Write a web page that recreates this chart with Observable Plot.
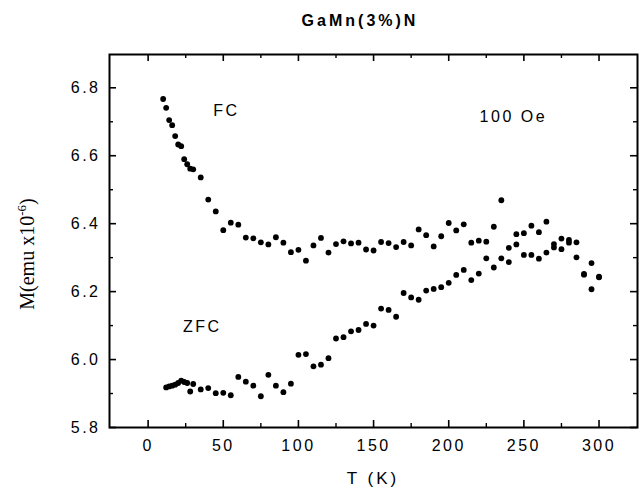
<!DOCTYPE html>
<html><head><meta charset="utf-8">
<script src="https://cdn.jsdelivr.net/npm/d3@7"></script>
<script src="https://cdn.jsdelivr.net/npm/@observablehq/plot@0.6"></script>
<style>html,body{margin:0;padding:0;background:#fff}svg{display:block}</style>
</head><body><div id="chart"></div>
<script>
const fcT = [10,12,14,16,18,20,22,24,26,28,30,35,40,45,50,55,60,65,70,75,80,85,90,95,100,105,110,115,120,125,130,135,140,145,150,155,160,165,170,175,180,185,190,195,200,205,210,215,220,225,230,235,240,245,250,255,260,265,270,275,280,285,290,295,300];
const fcM = [6.767,6.741,6.705,6.690,6.658,6.633,6.628,6.590,6.575,6.562,6.560,6.536,6.471,6.436,6.381,6.403,6.397,6.359,6.357,6.345,6.339,6.360,6.344,6.316,6.323,6.291,6.336,6.358,6.315,6.340,6.348,6.342,6.344,6.324,6.321,6.346,6.343,6.331,6.346,6.336,6.383,6.366,6.333,6.363,6.402,6.380,6.398,6.344,6.350,6.347,6.391,6.469,6.329,6.369,6.372,6.394,6.375,6.406,6.340,6.356,6.352,6.345,6.250,6.284,6.244];
const zfcT = [12,14,16,18,20,22,24,26,28,30,35,40,45,50,55,60,65,70,75,80,85,90,95,100,105,110,115,120,125,130,135,140,145,150,155,160,165,170,175,180,185,190,195,200,205,210,215,220,225,230,235,240,245,250,255,260,265,270,275,280,285,290,295,300];
const zfcM = [5.918,5.921,5.923,5.926,5.931,5.938,5.934,5.931,5.906,5.928,5.912,5.916,5.901,5.902,5.895,5.949,5.935,5.923,5.892,5.955,5.923,5.904,5.929,6.014,6.016,5.980,5.985,6.004,6.062,6.066,6.083,6.087,6.105,6.100,6.150,6.146,6.126,6.196,6.183,6.176,6.203,6.208,6.213,6.226,6.249,6.264,6.234,6.253,6.298,6.271,6.298,6.287,6.339,6.308,6.308,6.297,6.315,6.330,6.325,6.344,6.301,6.252,6.207,6.242];
const xTicks = [0,50,100,150,200,250,300];
const xMinor = [25,75,125,175,225,275];
const yTicks = [5.8,6.0,6.2,6.4,6.6,6.8];
const yMinor = [5.9,6.1,6.3,6.5,6.7];
const noteText = ["FC","ZFC","100 Oe"];
const noteT = [52,36,243];
const noteM = [6.733,6.095,6.713];
const titleText = "GaMn(3%)N";
const xLabel = "T (K)";

const fc = fcT.map((t,i)=>({T:t, M:fcM[i]}));
const zfc = zfcT.map((t,i)=>({T:t, M:zfcM[i]}));
const notes = noteText.map((s,i)=>({s, T:noteT[i], M:noteM[i]}));

const W = 643, H = 491, mL = 109, mR = 6, mT = 54, mB = 64;
const iw = W - mL - mR, ih = H - mT - mB;
const maj = 7, mnr = 4;

const plot = Plot.plot({
  width: W, height: H,
  marginLeft: mL, marginRight: mR, marginTop: mT, marginBottom: mB,
  style: {fontFamily: "Liberation Sans, Arial, sans-serif", background: "#fff", color: "#000"},
  x: {domain: [-25.7, 325.6]},
  y: {domain: [5.8, 6.898]},
  marks: [
    Plot.frame({stroke: "#000", strokeWidth: 2}),
    Plot.tickX(xTicks, {x: d=>d, insetTop: ih - maj, stroke: "#000", strokeWidth: 1.6}),
    Plot.tickX(xTicks, {x: d=>d, insetBottom: ih - maj, stroke: "#000", strokeWidth: 1.6}),
    Plot.tickX(xMinor, {x: d=>d, insetTop: ih - mnr, stroke: "#000", strokeWidth: 1.4}),
    Plot.tickX(xMinor, {x: d=>d, insetBottom: ih - mnr, stroke: "#000", strokeWidth: 1.4}),
    Plot.tickY(yTicks, {y: d=>d, insetRight: iw - maj, stroke: "#000", strokeWidth: 1.6}),
    Plot.tickY(yTicks, {y: d=>d, insetLeft: iw - maj, stroke: "#000", strokeWidth: 1.6}),
    Plot.tickY(yMinor, {y: d=>d, insetRight: iw - mnr, stroke: "#000", strokeWidth: 1.4}),
    Plot.tickY(yMinor, {y: d=>d, insetLeft: iw - mnr, stroke: "#000", strokeWidth: 1.4}),
    Plot.axisX(xTicks, {anchor: "bottom", tickSize: 0, tickPadding: 12, fontSize: 16, label: null, tickFormat: d=>String(d)}),
    Plot.axisY(yTicks, {anchor: "left", tickSize: 0, tickPadding: 9, fontSize: 16, label: null, tickFormat: d=>d.toFixed(1)}),
    Plot.dot(fc, {x: "T", y: "M", r: 2.9, fill: "#000", stroke: null}),
    Plot.dot(zfc, {x: "T", y: "M", r: 2.9, fill: "#000", stroke: null}),
    Plot.text(notes, {x: "T", y: "M", text: "s", fontSize: 16, fill: "#000", textAnchor: "middle"})
  ]
});
document.getElementById("chart").appendChild(plot);
const svg = d3.select(plot);
svg.selectAll("[aria-label='x-axis tick label'] text, [aria-label='y-axis tick label'] text").attr("letter-spacing", "2.5px");
svg.selectAll("[aria-label='text'] text").attr("letter-spacing", "2.5px");
svg.append("text").attr("x", 360).attr("y", 26).attr("text-anchor", "middle")
  .attr("font-family", "Liberation Sans, Arial, sans-serif").attr("font-weight", "bold")
  .attr("font-size", 16).attr("letter-spacing", "3px").text(titleText);
svg.append("text").attr("x", mL + iw/2).attr("y", 484).attr("text-anchor", "middle")
  .attr("font-family", "Liberation Sans, Arial, sans-serif").attr("font-size", 17)
  .attr("letter-spacing", "3px").text(xLabel);
const yl = svg.append("text").attr("transform", "translate(34,254) rotate(-90)").attr("text-anchor", "middle")
  .attr("font-family", "Liberation Serif, Times New Roman, serif").attr("font-size", 20);
yl.append("tspan").text("M(emu x10");
yl.append("tspan").attr("font-size", 13).attr("dy", -8).text("-6");
yl.append("tspan").attr("dy", 8).text(")");
</script>
</body></html>
